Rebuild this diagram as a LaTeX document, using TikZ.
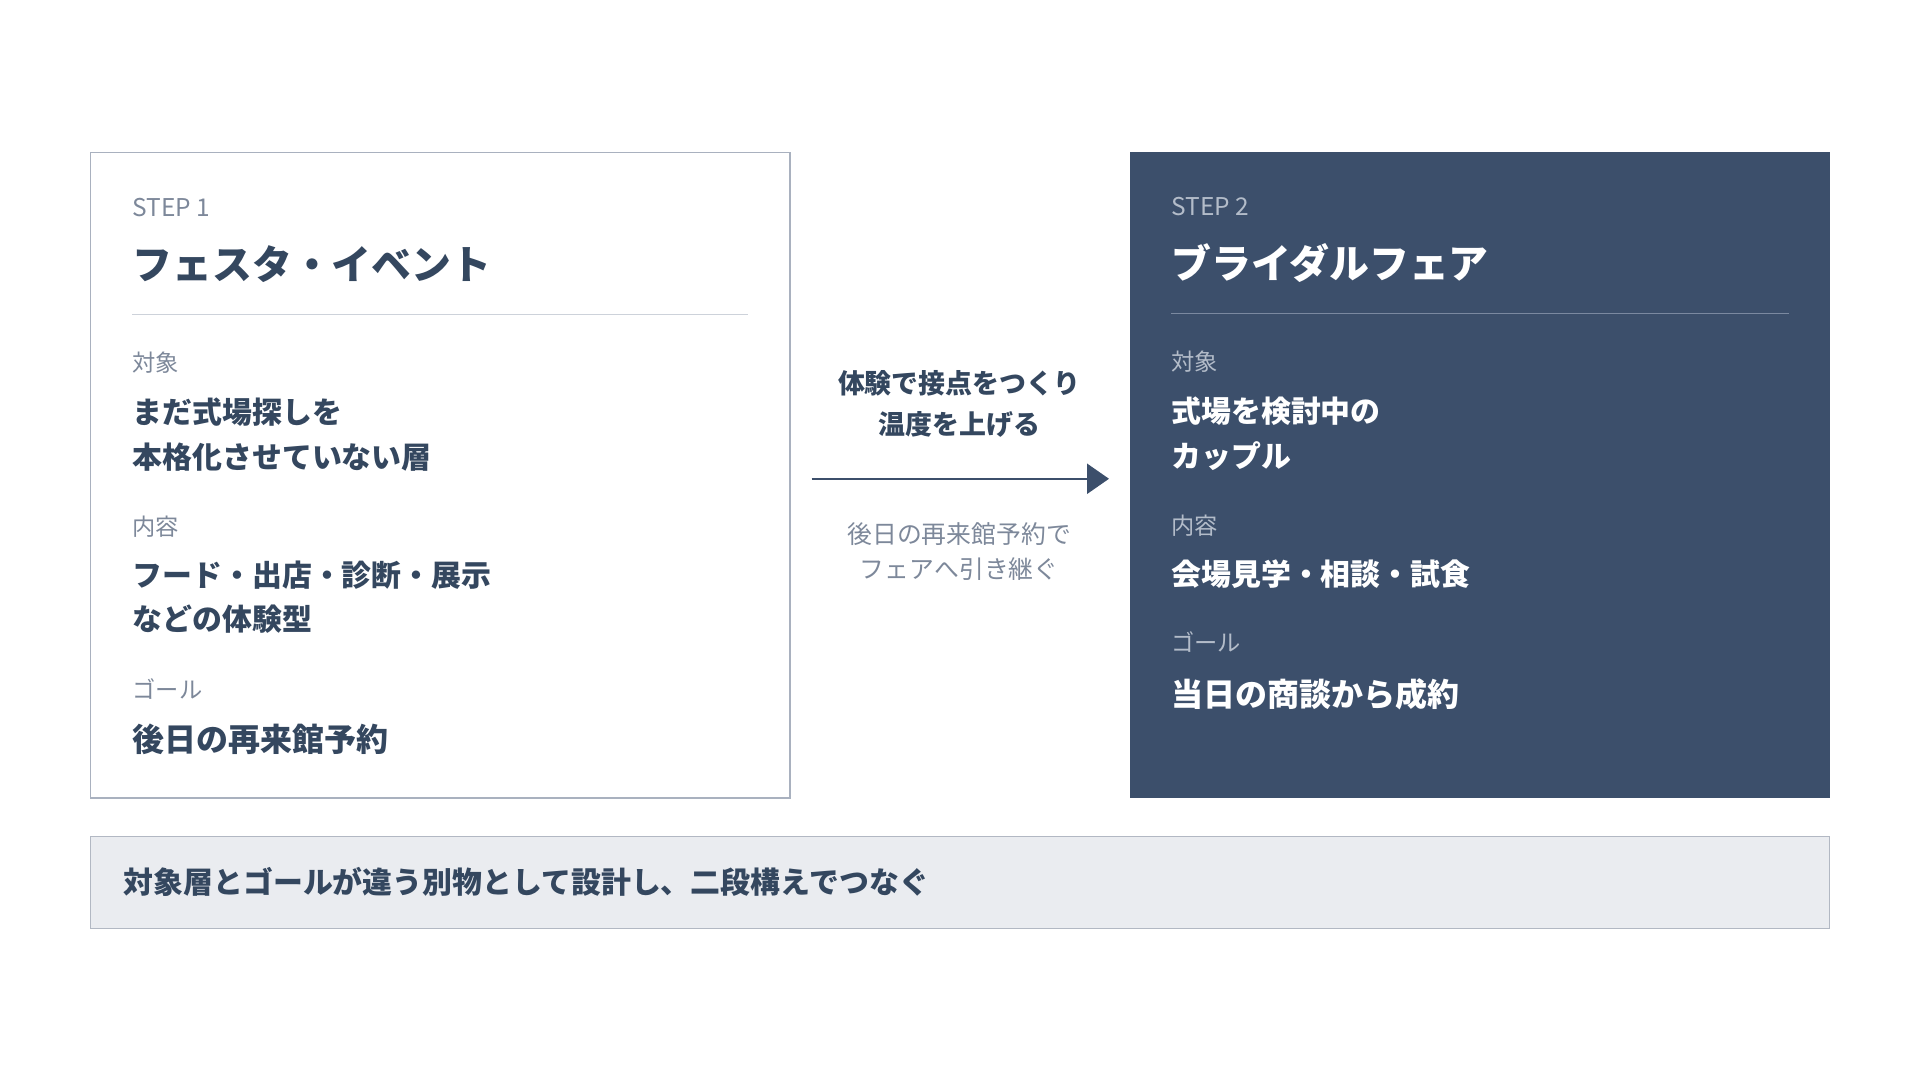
\documentclass[tikz,border=0pt]{standalone}
\usepackage{fontspec}
\setmainfont{Noto Sans CJK JP}
\usetikzlibrary{arrows.meta}

\definecolor{navy_fill}{HTML}{3C4F6B}
\definecolor{navy_text}{HTML}{34475F}
\definecolor{gray_label}{HTML}{7D889A}
\definecolor{card_border}{HTML}{A9B1BF}
\definecolor{rule_light}{HTML}{CDD2DA}
\definecolor{label_dark}{HTML}{B3BCC9}
\definecolor{rule_dark}{HTML}{7B89A0}
\definecolor{bar_fill}{HTML}{EAECF0}
\definecolor{bar_border}{HTML}{B2B8C3}

\tikzset{
  card_light/.style={draw=card_border, fill=white, line width=0.7pt, inner sep=0pt,
     minimum width=14.06cm, minimum height=12.98cm},
  card_dark/.style={draw=none, fill=navy_fill, inner sep=0pt,
     minimum width=14.06cm, minimum height=12.98cm},
  step_tag/.style={anchor=base west, inner sep=0pt, font=\fontsize{14}{16}\selectfont},
  step_title/.style={anchor=base west, inner sep=0pt, font=\fontsize{22.8}{27}\selectfont\bfseries},
  field_label/.style={anchor=base west, inner sep=0pt, font=\fontsize{13.3}{16}\selectfont},
  field_text/.style={anchor=base west, inner sep=0pt, align=left, font=\fontsize{17.1}{25.6}\selectfont\bfseries},
  goal_text/.style={anchor=base west, inner sep=0pt, font=\fontsize{18.3}{22}\selectfont\bfseries},
  flow_arrow/.style={navy_fill, line width=1.4pt, -{Triangle[length=0.44cm, width=0.6cm]},
     shorten <=0.42cm, shorten >=0.42cm}
}

\begin{document}
\begin{tikzpicture}[x=0.02cm, y=-0.02cm]
  \useasboundingbox (0,0) rectangle (1920,1080);
  \begin{scope}[scale=0.995, transform shape]
  % cards
  \node[card_light] (card1) at (442.5,477.5) {};
  \node[card_dark] (card2) at (1487.5,477.5) {};
  % step 1
  \node[step_tag, text=gray_label] (tag1) at (133,217.5) {STEP 1};
  \node[step_title, text=navy_text] (title1) at (133,281) {フェスタ・イベント};
  \draw[rule_light, line width=0.6pt] (133,316) -- (752,316);
  \node[field_label, text=gray_label] (target1) at (133,373) {対象};
  \node[field_text, text=navy_text] (targettext1) at (133,471) {まだ式場探しを\\本格化させていない層};
  \node[field_label, text=gray_label] (content1) at (133,538) {内容};
  \node[field_text, text=navy_text] (contenttext1) at (133,634) {フード・出店・診断・展示\\などの体験型};
  \node[field_label, text=gray_label] (goal1) at (133,702) {ゴール};
  \node[goal_text, text=navy_text] (goaltext1) at (133,755) {後日の再来館予約};
  % step 2
  \node[step_tag, text=label_dark] (tag2) at (1177,216.5) {STEP 2};
  \node[step_title, text=white] (title2) at (1177,280) {ブライダルフェア};
  \draw[rule_dark, line width=0.6pt] (1177,315) -- (1798,315);
  \node[field_label, text=label_dark] (target2) at (1177,372) {対象};
  \node[field_text, text=white] (targettext2) at (1177,470) {式場を検討中の\\カップル};
  \node[field_label, text=label_dark] (content2) at (1177,537) {内容};
  \node[field_text, text=white] (contenttext2) at (1177,588) {会場見学・相談・試食};
  \node[field_label, text=label_dark] (goal2) at (1177,655) {ゴール};
  \node[goal_text, text=white] (goaltext2) at (1177,710) {当日の商談から成約};
  % arrow between the steps
  \draw[flow_arrow] ([yshift=-2.1pt]card1.east) -- ([yshift=-2.1pt]card2.west);
  \node[anchor=base, inner sep=0pt, align=center, text=navy_text,
        font=\fontsize{15.4}{23.9}\selectfont\bfseries] (arrowtop) at (964,437) {体験で接点をつくり\\温度を上げる};
  \node[anchor=base, inner sep=0pt, align=center, text=gray_label,
        font=\fontsize{14.2}{20}\selectfont] (arrowbottom) at (964,581.5) {後日の再来館予約で\\フェアへ引き継ぐ};
  % summary bar
  \node[draw=bar_border, fill=bar_fill, line width=0.7pt, inner sep=0pt,
        minimum width=34.96cm, minimum height=1.84cm] (summary) at (965,887) {};
  \node[anchor=base west, inner sep=0pt, text=navy_text,
        font=\fontsize{17.1}{20}\selectfont\bfseries] (summarytext) at (124,898) {対象層とゴールが違う別物として設計し、二段構えでつなぐ};
  \end{scope}
\end{tikzpicture}
\end{document}
